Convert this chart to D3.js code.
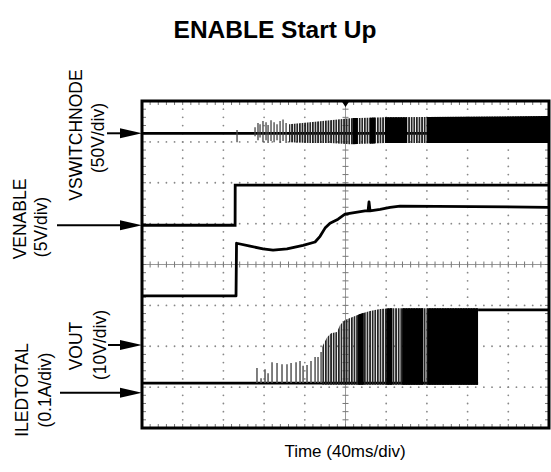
<!DOCTYPE html>
<html><head><meta charset="utf-8">
<script src="https://cdn.jsdelivr.net/npm/d3@7"></script>
<style>html,body{margin:0;padding:0;background:#fff;}svg{display:block;}</style>
</head><body>
<svg id="c" width="551" height="472"></svg>
<script>
// ---------- data (time in ms, amplitude in screen divisions from bottom) ----------
const title = "ENABLE Start Up";
const xLabel = "Time (40ms/div)";
const channelNames = ["VSWITCHNODE", "VENABLE", "VOUT", "ILEDTOTAL"];
const channelScales = ["(50V/div)", "(5V/div)", "(10V/div)", "(0.1A/div)"];
const channelMarkers = [7.21, 4.96, 2.03, 0.86];

// VENABLE step
const venable = [[0,4.96],[91.5,4.96],[91.6,5.94],[400,5.94]];
// middle analog trace
const vout = [[0,3.23],[92.4,3.23],[92.9,4.52],[106.2,4.45],[118.9,4.38],[128.8,4.35],[142.5,4.38],
  [158.3,4.47],[170.1,4.55],[175.0,4.69],[179.9,4.89],[184.8,5.01],[192.7,5.11],[199.5,5.23],
  [219.2,5.31],[222.2,5.31],[223.1,5.53],[224.1,5.31],[234.0,5.35],[243.8,5.40],[253.6,5.43],[400,5.40]];

// VSWITCHNODE: baseline, sparse spikes [t, top, bottom], band envelope [t, top, bottom], dense segments
const swBase = 7.21;
const swSpikes = [[93.4,7.29,6.99],[111.1,7.36,7.14],[114.0,7.46,7.04],[116.0,7.43,7.11],[118.9,7.51,6.99],
  [121.9,7.48,7.04],[123.9,7.41,6.97],[126.8,7.53,7.02],[129.8,7.48,6.99],[132.7,7.43,7.04],
  [135.7,7.51,6.97],[138.6,7.55,7.02],[141.6,7.46,6.97]];
const swBand = [[144.5,7.43,6.99],[165.1,7.48,6.97],[184.8,7.53,6.97],[204.5,7.58,6.94],[238.9,7.60,6.97],[400,7.63,6.97]];
const swSolid = [[207.0,212.0],[224.0,229.0],[238.9,260.5],[280.2,400]];

// ILEDTOTAL: baseline, sparse pulses [t, top], band envelope [t, top], dense segments, final level
const ledBase = 1.10;
const ledPulses = [[113.0,1.47],[117.0,1.22],[120.9,1.44],[123.9,1.34],[127.8,1.61],[132.7,1.59],[137.6,1.56],
  [142.5,1.56],[146.5,1.59],[151.4,1.61],[155.3,1.64],[158.3,1.52],[162.2,1.54],[166.1,1.64],[170.1,1.74],
  [173.0,1.74],[176.0,1.86]];
const ledBand = [[176.9,1.98],[181.9,2.22],[185.8,2.32],[191.7,2.35],[194.6,2.52],[199.5,2.64],[204.5,2.69],
  [214.3,2.79],[224.1,2.86],[234.0,2.91],[243.8,2.93],[255.6,2.93],[330.3,2.93]];
const ledSolid = [[212.3,218.0],[240.0,246.0],[255.6,276.5],[280.5,330.3]];
const ledOn = [[330.3,2.89],[400,2.89]];

// ---------- drawing ----------
const svg = d3.select("#c");
const x = d3.scaleLinear().domain([0,400]).range([142,549]);
const y = d3.scaleLinear().domain([0,8]).range([428,101]);
const font = "Liberation Sans, Arial, sans-serif";

const defs = svg.append("defs");
defs.append("pattern").attr("id","hatch").attr("patternUnits","userSpaceOnUse")
  .attr("width",2.6).attr("height",10)
  .append("rect").attr("width",1.7).attr("height",10).attr("fill","#222");

svg.append("text").attr("x",275).attr("y",38).attr("text-anchor","middle")
  .attr("font-family",font).attr("font-weight","bold")
  .attr("font-size",24.5).text(title);

// grid
const g = svg.append("g");
const xDiv = d3.range(0,401,40), yDiv = d3.range(0,8.01,1);
const xMinor = d3.range(0,400.1,8), yMinor = d3.range(0,8.001,0.2);
xDiv.slice(1,-1).forEach(t=>{
  if (t===200) return;
  g.selectAll(null).data(yMinor).join("circle").attr("cx",x(t)).attr("cy",d=>y(d)).attr("r",0.9).attr("fill","#888");
});
yDiv.slice(1,-1).forEach(v=>{
  if (v===4) return;
  g.selectAll(null).data(xMinor).join("circle").attr("cx",d=>x(d)).attr("cy",y(v)).attr("r",0.9).attr("fill","#888");
});
// center axes with ticks
g.append("line").attr("x1",x(0)).attr("x2",x(400)).attr("y1",y(4)).attr("y2",y(4)).attr("stroke","#999").attr("stroke-width",1);
g.append("line").attr("x1",x(200)).attr("x2",x(200)).attr("y1",y(0)).attr("y2",y(8)).attr("stroke","#999").attr("stroke-width",1);
g.selectAll(null).data(xMinor).join("line").attr("x1",d=>x(d)).attr("x2",d=>x(d))
  .attr("y1",y(4)-3).attr("y2",y(4)+3).attr("stroke","#777").attr("stroke-width",1);
g.selectAll(null).data(yMinor).join("line").attr("y1",d=>y(d)).attr("y2",d=>y(d))
  .attr("x1",x(200)-3).attr("x2",x(200)+3).attr("stroke","#777").attr("stroke-width",1);
// border ticks
g.selectAll(null).data(xMinor).join("line").attr("x1",d=>x(d)).attr("x2",d=>x(d))
  .attr("y1",y(8)).attr("y2",y(8)+4).attr("stroke","#777");
g.selectAll(null).data(xMinor).join("line").attr("x1",d=>x(d)).attr("x2",d=>x(d))
  .attr("y1",y(0)).attr("y2",y(0)-4).attr("stroke","#777");
g.selectAll(null).data(yMinor).join("line").attr("y1",d=>y(d)).attr("y2",d=>y(d))
  .attr("x1",x(0)).attr("x2",x(0)+4).attr("stroke","#777");
g.selectAll(null).data(yMinor).join("line").attr("y1",d=>y(d)).attr("y2",d=>y(d))
  .attr("x1",x(400)).attr("x2",x(400)-4).attr("stroke","#777");

const line = d3.line().x(d=>x(d[0])).y(d=>y(d[1]));
const tr = svg.append("g");

// VSWITCHNODE
tr.append("path").attr("d",line([[0,swBase],[400,swBase]])).attr("stroke","#000").attr("stroke-width",2.8).attr("fill","none");
tr.selectAll(null).data(swSpikes).join("line").attr("x1",d=>x(d[0])).attr("x2",d=>x(d[0]))
  .attr("y1",d=>y(d[1])).attr("y2",d=>y(d[2])).attr("stroke","#444").attr("stroke-width",1.3);
const bandArea = d3.area().x(d=>x(d[0])).y0(d=>y(d[2])).y1(d=>y(d[1]));
tr.append("path").attr("d",bandArea(swBand)).attr("fill","url(#hatch)");
swSolid.forEach((s,i)=>{
  defs.append("clipPath").attr("id","sc"+i).append("rect").attr("x",x(s[0])).attr("width",x(s[1])-x(s[0])).attr("y",0).attr("height",472);
  tr.append("path").attr("d",bandArea(swBand)).attr("fill","#000").attr("clip-path","url(#sc"+i+")");
});

// VENABLE and middle trace
tr.append("path").attr("d",line(venable)).attr("stroke","#000").attr("stroke-width",2.8).attr("fill","none");
tr.append("path").attr("d",line(vout)).attr("stroke","#000").attr("stroke-width",2.8).attr("fill","none").attr("stroke-linejoin","round");

// ILEDTOTAL
tr.append("path").attr("d",line([[0,ledBase],[330.3,ledBase]])).attr("stroke","#000").attr("stroke-width",2.8).attr("fill","none");
tr.selectAll(null).data(ledPulses).join("line").attr("x1",d=>x(d[0])).attr("x2",d=>x(d[0]))
  .attr("y1",d=>y(d[1])).attr("y2",y(ledBase)).attr("stroke","#555").attr("stroke-width",1.5);
const ledArea = d3.area().x(d=>x(d[0])).y0(y(ledBase-0.04)).y1(d=>y(d[1]));
tr.append("path").attr("d",ledArea(ledBand)).attr("fill","url(#hatch)");
ledSolid.forEach((s,i)=>{
  defs.append("clipPath").attr("id","lc"+i).append("rect").attr("x",x(s[0])).attr("width",x(s[1])-x(s[0])).attr("y",0).attr("height",472);
  tr.append("path").attr("d",ledArea(ledBand)).attr("fill","#000").attr("clip-path","url(#lc"+i+")");
});
tr.append("path").attr("d",line(ledOn)).attr("stroke","#000").attr("stroke-width",2.8).attr("fill","none");

// frame
svg.append("rect").attr("x",x(0)).attr("y",y(8)).attr("width",x(400)-x(0)).attr("height",y(0)-y(8))
  .attr("fill","none").attr("stroke","#000").attr("stroke-width",3);
// trigger marker
svg.append("path").attr("d",`M${x(200)-4},${y(8)}L${x(200)+4},${y(8)}L${x(200)},${y(8)+6}Z`).attr("fill","#000");

// channel labels and arrows
const labelPos = [[76,135,98,138],[20,219,41,227],[76,346,100,345],[22,390,45,390]];
const arrowStart = [107,57,108,60];
channelNames.forEach((n,i)=>{
  const p = labelPos[i];
  svg.append("text").attr("transform",`translate(${p[0]},${p[1]}) rotate(-90)`).attr("text-anchor","middle")
    .attr("dy","0.36em").attr("font-family",font).attr("font-size",17.5).text(n);
  svg.append("text").attr("transform",`translate(${p[2]},${p[3]}) rotate(-90)`).attr("text-anchor","middle")
    .attr("dy","0.36em").attr("font-family",font).attr("font-size",17.5).text(channelScales[i]);
  const yy = y(channelMarkers[i]);
  svg.append("line").attr("x1",arrowStart[i]).attr("x2",x(0)-18).attr("y1",yy).attr("y2",yy).attr("stroke","#000").attr("stroke-width",2);
  svg.append("path").attr("d",`M${x(0)-22},${yy-5}L${x(0)},${yy}L${x(0)-22},${yy+5}Z`).attr("fill","#000");
});

svg.append("text").attr("x",345).attr("y",457).attr("text-anchor","middle")
  .attr("font-family",font).attr("font-size",17).text(xLabel);
</script>
</body></html>
